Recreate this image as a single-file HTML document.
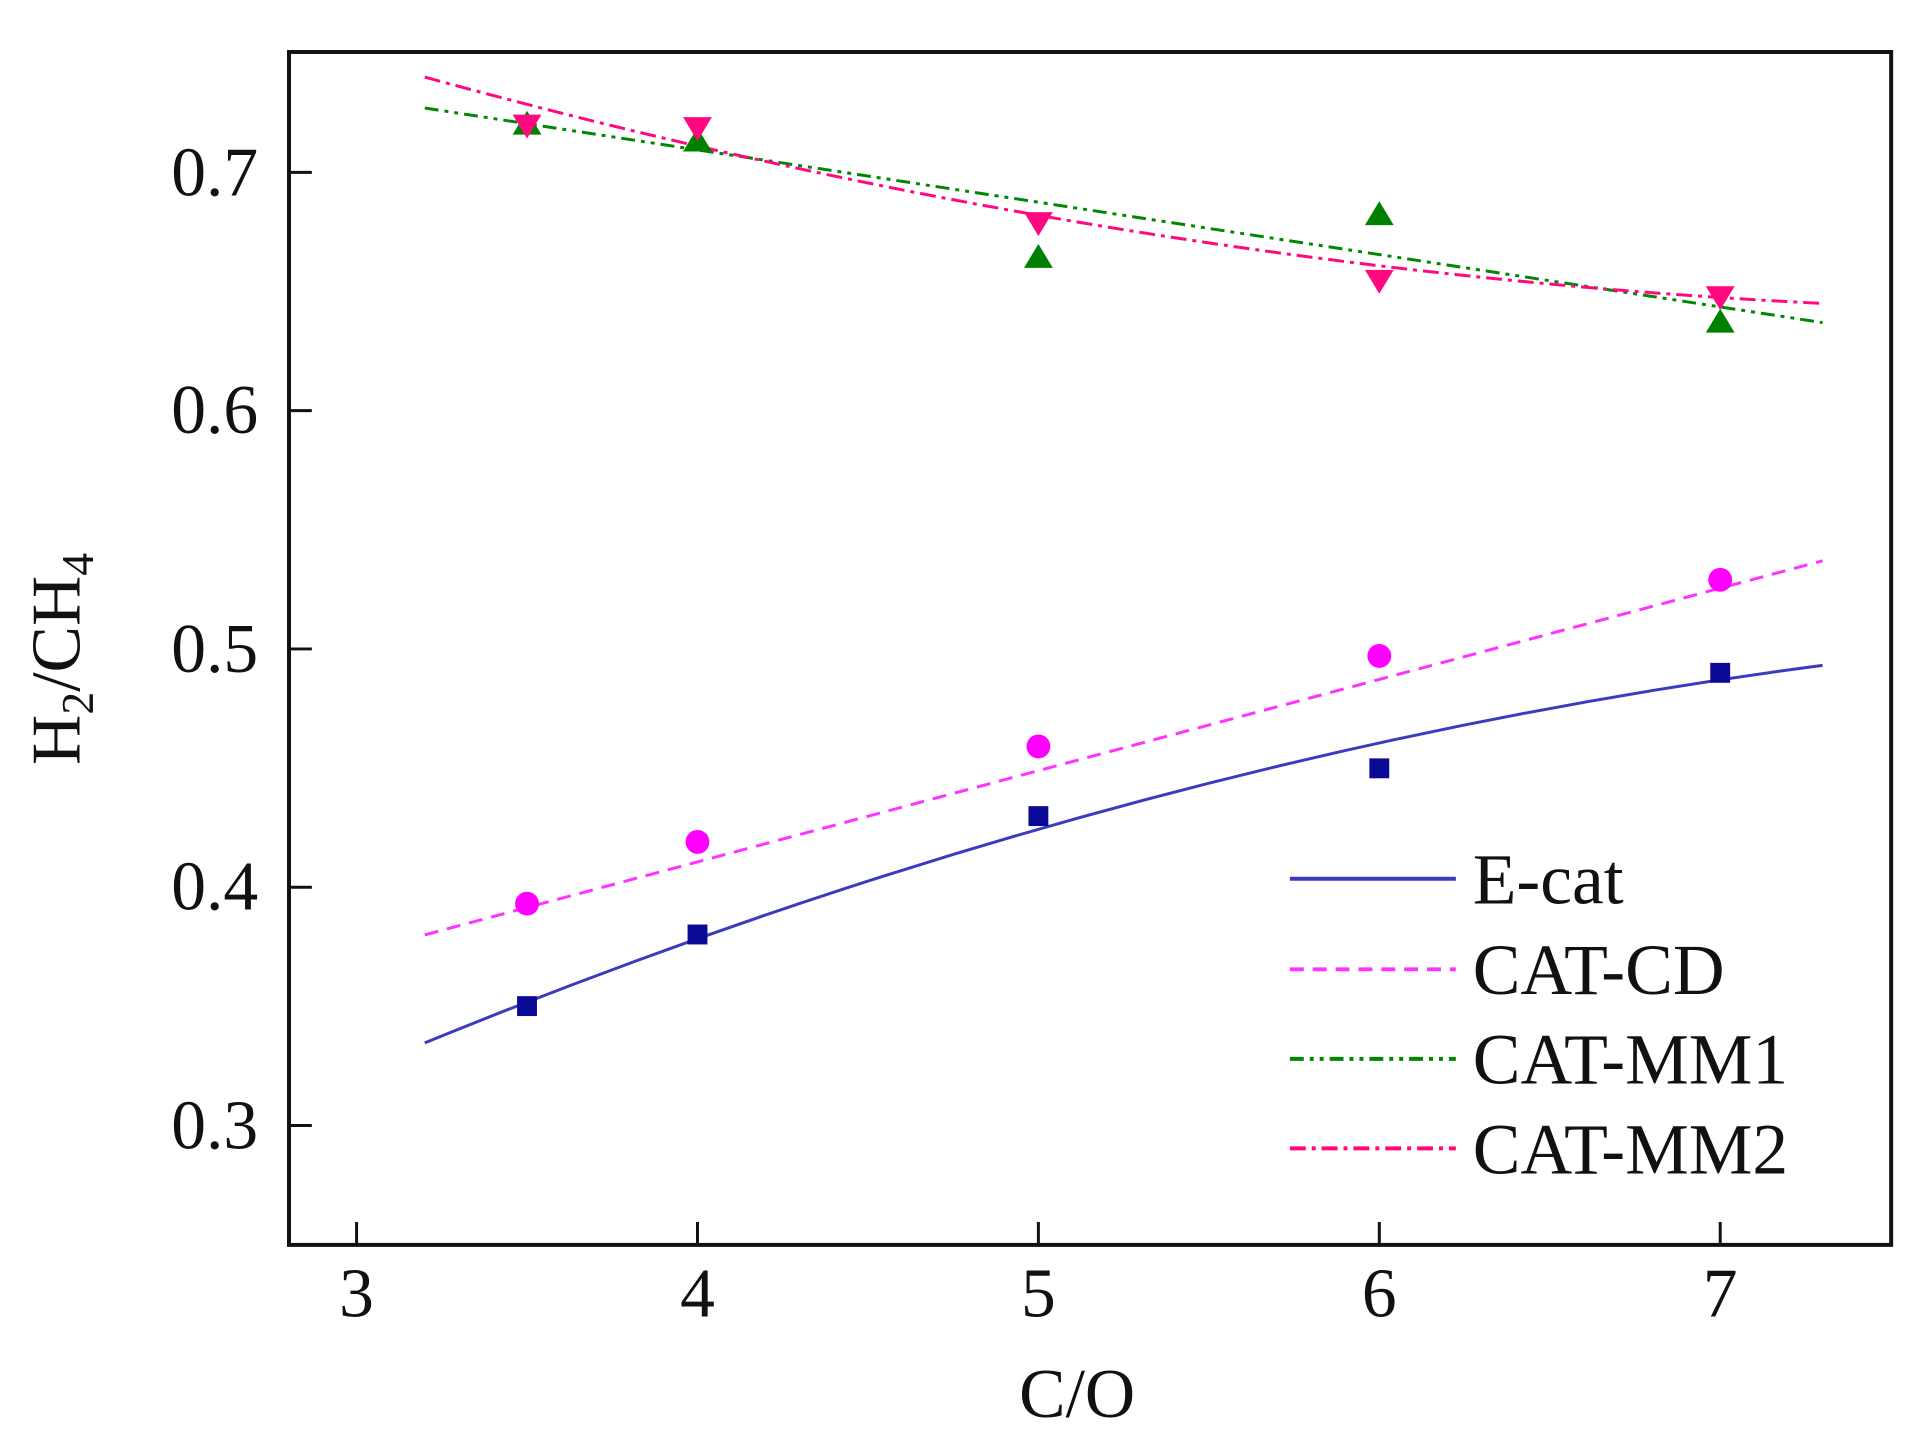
<!DOCTYPE html>
<html><head><meta charset="utf-8"><style>
html,body{margin:0;padding:0;background:#fff;}
svg{display:block;}
text{font-family:"Liberation Serif",serif;fill:#111;}
</style></head><body>
<svg width="1929" height="1455" viewBox="0 0 1929 1455" xmlns="http://www.w3.org/2000/svg">
<rect width="1929" height="1455" fill="#fff"/>
<g transform="matrix(0.9939,0,0,0.9949,1.76,0.27)">
<rect x="289" y="52" width="1612" height="1199" fill="none" stroke="#111" stroke-width="4"/>
<g stroke="#111" stroke-width="3">
<line x1="357" y1="1251" x2="357" y2="1228"/>
<line x1="700" y1="1251" x2="700" y2="1228"/>
<line x1="1043" y1="1251" x2="1043" y2="1228"/>
<line x1="1386" y1="1251" x2="1386" y2="1228"/>
<line x1="1729" y1="1251" x2="1729" y2="1228"/>
<line x1="289" y1="173" x2="312" y2="173"/>
<line x1="289" y1="412.5" x2="312" y2="412.5"/>
<line x1="289" y1="652" x2="312" y2="652"/>
<line x1="289" y1="891.5" x2="312" y2="891.5"/>
<line x1="289" y1="1131" x2="312" y2="1131"/>
</g>
<g font-size="70" text-anchor="middle">
<text x="357" y="1323">3</text>
<text x="700" y="1323">4</text>
<text x="1043" y="1323">5</text>
<text x="1386" y="1323">6</text>
<text x="1729" y="1323">7</text>
</g>
<g font-size="70" text-anchor="end">
<text x="258" y="196">0.7</text>
<text x="258" y="435">0.6</text>
<text x="258" y="675">0.5</text>
<text x="258" y="914">0.4</text>
<text x="258" y="1154">0.3</text>
</g>
<text x="1082" y="1424" font-size="70" text-anchor="middle">C/O</text>
<text transform="translate(78,662) rotate(-90)" font-size="70" text-anchor="middle">H<tspan font-size="46" dy="14">2</tspan><tspan dy="-14">/CH</tspan><tspan font-size="46" dy="14">4</tspan></text>

<path fill="none" stroke="#3b3bbf" stroke-width="3" d="M425.6,1048 Q1128.75,760.5 1832,668.5"/>
<line x1="425.6" y1="939.4" x2="1832" y2="563.4" stroke="#ff33ff" stroke-width="3" stroke-dasharray="14,9"/>
<line x1="425.6" y1="108.3" x2="1832" y2="324" stroke="#008800" stroke-width="3" stroke-dasharray="14,6,4,6,4,6"/>
<path fill="none" stroke="#ff0880" stroke-width="3" stroke-dasharray="16,6,4,6" d="M425.6,77.2 Q1128.75,270.2 1832,304.7"/>

<g fill="#0a0a96">
<rect x="518.5" y="1001" width="20" height="20"/>
<rect x="690" y="929" width="20" height="20"/>
<rect x="1033" y="810" width="20" height="20"/>
<rect x="1376" y="762" width="20" height="20"/>
<rect x="1719" y="666" width="20" height="20"/>
</g>
<g fill="#ff00ff">
<circle cx="528.5" cy="908" r="12"/>
<circle cx="700" cy="846" r="12"/>
<circle cx="1043" cy="750" r="12"/>
<circle cx="1386" cy="659" r="12"/>
<circle cx="1729" cy="582.5" r="12"/>
</g>
<g fill="#008000">
<polygon points="528.5,111 514,135 543,135"/>
<polygon points="700,128 685.5,152 714.5,152"/>
<polygon points="1043,245 1028.5,269 1057.5,269"/>
<polygon points="1386,202 1371.5,226 1400.5,226"/>
<polygon points="1729,310 1714.5,334 1743.5,334"/>
</g>
<g fill="#ff0880">
<polygon points="528.5,139 514,115 543,115"/>
<polygon points="700,141.5 685.5,117.5 714.5,117.5"/>
<polygon points="1043,237 1028.5,213 1057.5,213"/>
<polygon points="1386,295 1371.5,271 1400.5,271"/>
<polygon points="1729,311.5 1714.5,287.5 1743.5,287.5"/>
</g>

<line x1="1296" y1="883" x2="1463" y2="883" stroke="#3b3bbf" stroke-width="4"/>
<line x1="1296" y1="974" x2="1463" y2="974" stroke="#ff33ff" stroke-width="4" stroke-dasharray="14,9"/>
<line x1="1296" y1="1064" x2="1463" y2="1064" stroke="#008800" stroke-width="4" stroke-dasharray="14,6,4,6,4,6"/>
<line x1="1296" y1="1154" x2="1463" y2="1154" stroke="#ff0880" stroke-width="4" stroke-dasharray="16,6,4,6"/>
<g font-size="72">
<text x="1480" y="908">E-cat</text>
<text x="1480" y="999">CAT-CD</text>
<text x="1480" y="1089">CAT-MM1</text>
<text x="1480" y="1179">CAT-MM2</text>
</g>
</g>
</svg>
</body></html>
